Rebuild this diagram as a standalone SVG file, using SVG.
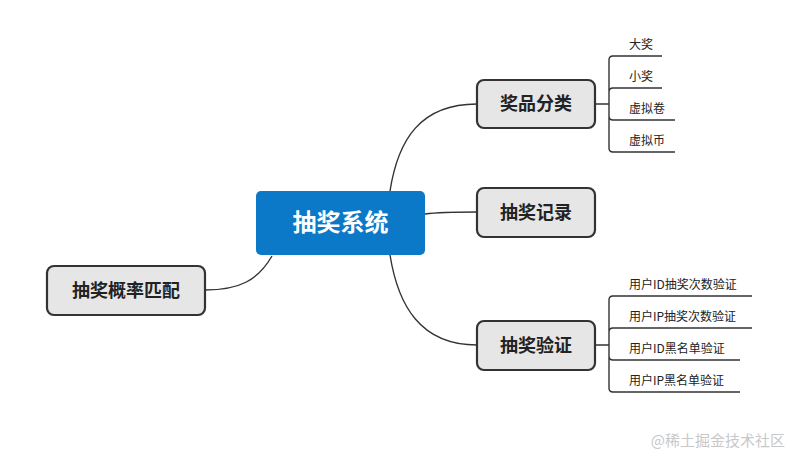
<svg xmlns="http://www.w3.org/2000/svg" width="800" height="465" viewBox="0 0 800 465">
<style>
.box{fill:#e6e6e6;stroke:#333;stroke-width:2.2}
.t{font-family:"Noto Sans CJK SC","Noto Sans",sans-serif;fill:#222}
.m{font-size:18px;font-weight:bold}
.s{font-size:12px}
.c{fill:none;stroke:#333;stroke-width:1.4}
</style>
<rect width="800" height="465" fill="#fff"/>
<g id="connectors">
<path class="c" d="M390 191 C398 140 420 104 477 104"/>
<path class="c" d="M425 214 C440 212 455 212 477 212"/>
<path class="c" d="M390 255 C398 305 420 345 477 345"/>
<path class="c" d="M272 256 C258 280 240 290 205 290"/>
<path class="c" d="M595 104 H609 M609 104 V60 Q609 56 613 56 H662 M609 92 Q609 88 613 88 H662 M609 104 V116 Q609 120 613 120 H675 M609 116 V148 Q609 152 613 152 H675"/>
<path class="c" d="M595 345 H609 M609 345 V300 Q609 296 613 296 H752 M609 332 Q609 328 613 328 H752 M609 345 V356 Q609 360 613 360 H740 M609 356 V388 Q609 392 613 392 H740"/>
</g>
<g id="center"><rect x="256" y="191" width="169" height="64" rx="5" fill="#0b78c8"/><text class="t" x="340.5" y="231" font-size="24" font-weight="bold" fill="#fff" style="fill:#fff" text-anchor="middle">抽奖系统</text></g>
<g id="prize"><rect class="box" x="477" y="80" width="118" height="48" rx="7"/><text class="t m" x="536" y="110" text-anchor="middle">奖品分类</text></g>
<g id="record"><rect class="box" x="477" y="188" width="118" height="49" rx="7"/><text class="t m" x="536" y="219" text-anchor="middle">抽奖记录</text></g>
<g id="verify"><rect class="box" x="477" y="321" width="118" height="49" rx="7"/><text class="t m" x="536" y="352" text-anchor="middle">抽奖验证</text></g>
<g id="prob"><rect class="box" x="47" y="266" width="158" height="49" rx="7"/><text class="t m" x="126" y="297" text-anchor="middle">抽奖概率匹配</text></g>
<g id="p1"><text class="t s" x="629" y="49">大奖</text></g>
<g id="p2"><text class="t s" x="629" y="81">小奖</text></g>
<g id="p3"><text class="t s" x="629" y="113">虚拟卷</text></g>
<g id="p4"><text class="t s" x="629" y="145">虚拟币</text></g>
<g id="v1"><text class="t s" x="629" y="289">用户ID抽奖次数验证</text></g>
<g id="v2"><text class="t s" x="629" y="321">用户IP抽奖次数验证</text></g>
<g id="v3"><text class="t s" x="629" y="353">用户ID黑名单验证</text></g>
<g id="v4"><text class="t s" x="629" y="385">用户IP黑名单验证</text></g>
<text x="785" y="446" text-anchor="end" font-family="Noto Sans CJK SC,sans-serif" font-size="15" fill="#c8c8c8">@稀土掘金技术社区</text>
</svg>
